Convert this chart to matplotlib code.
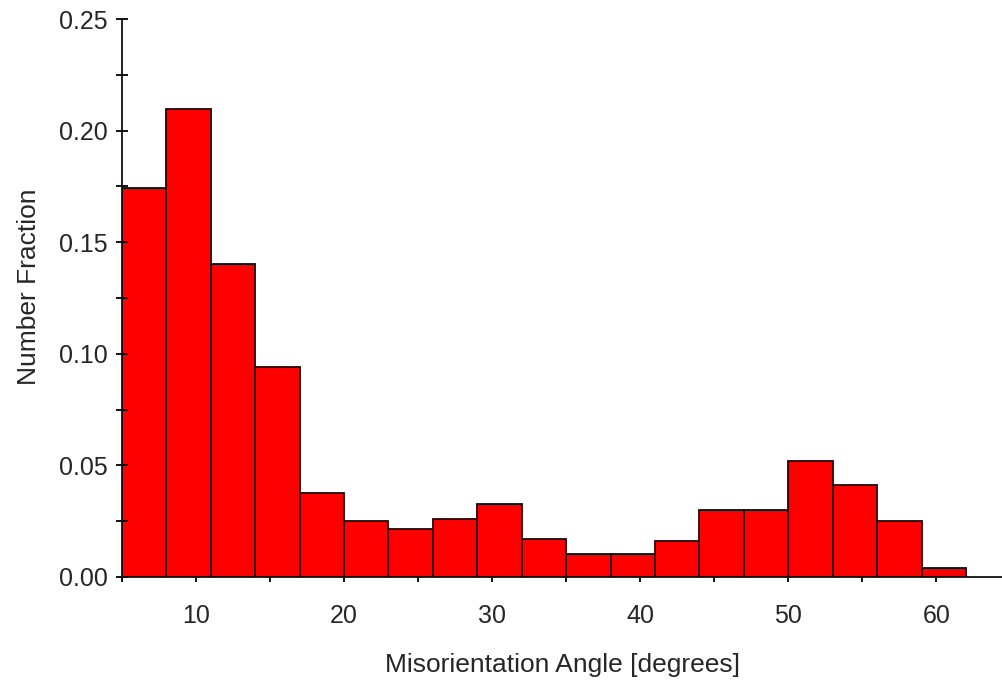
import numpy as np
import matplotlib.pyplot as plt
from matplotlib.ticker import MultipleLocator

# bin edges every 3 degrees from 5 to 62
bin_edges = np.arange(5, 63, 3)
fractions = [0.1742, 0.2099, 0.1402, 0.0943, 0.0378, 0.0250, 0.0217, 0.0259,
             0.0325, 0.0172, 0.0105, 0.0105, 0.0161, 0.0302, 0.0302, 0.0520,
             0.0414, 0.0250, 0.0042]
x_ticks = [10, 20, 30, 40, 50, 60]
y_ticks = [0.00, 0.05, 0.10, 0.15, 0.20, 0.25]

plt.rcParams['font.family'] = ['Liberation Sans', 'DejaVu Sans']
text_color = '#262626'

fig = plt.figure(figsize=(10.03, 6.8), dpi=100)
ax = fig.add_axes([0.1216, 0.1515, 0.8784, 0.8205])

ax.bar(bin_edges[:-1], fractions, width=np.diff(bin_edges), align='edge',
       color='#ff0000', edgecolor='#2a0000', linewidth=1.3)

ax.set_xlim(5, 64.5)
ax.set_ylim(0, 0.25)
ax.spines['top'].set_visible(False)
ax.spines['right'].set_visible(False)
for s in ('left', 'bottom'):
    ax.spines[s].set_linewidth(1.3)
    ax.spines[s].set_color('#111111')

ax.set_xticks(x_ticks)
ax.xaxis.set_minor_locator(MultipleLocator(5))
ax.set_yticks(y_ticks)
ax.set_yticklabels([f"{v:.2f}" for v in y_ticks])
ax.yaxis.set_minor_locator(MultipleLocator(0.025))

ax.tick_params(axis='y', which='both', direction='inout', length=8, width=1.3,
               labelsize=18, labelcolor=text_color, pad=6)
ax.tick_params(axis='x', which='both', direction='out', length=3.5, width=1.3,
               labelsize=18, labelcolor=text_color, pad=16)

ax.set_xlabel('Misorientation Angle [degrees]', fontsize=19, color=text_color, labelpad=18)
ax.set_ylabel('Number Fraction', fontsize=19, color=text_color)
ax.yaxis.set_label_coords(-0.092, 0.52)

fig.savefig('out.png', dpi=100)
